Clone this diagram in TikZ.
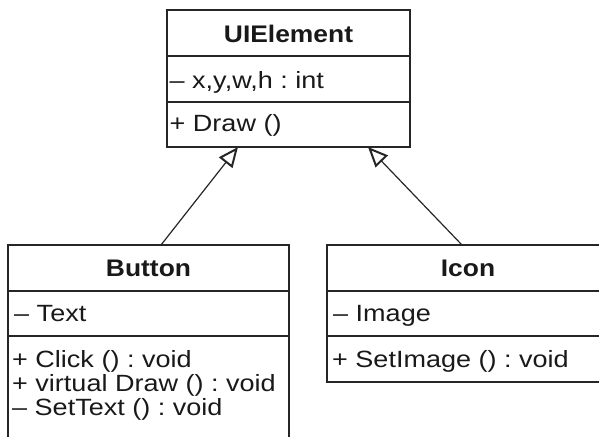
\documentclass[tikz,border=0pt]{standalone}
\usepackage{fontspec}
\setmainfont{Liberation Sans}[FakeStretch=1.15]
\newfontfamily\classnamefont{Liberation Sans}[FakeStretch=1.1]
\usetikzlibrary{arrows.meta}
\frenchspacing
\tikzset{
  classbox/.style={draw=black!85, line width=1.5pt, anchor=north west, inner sep=0pt, outer sep=0pt},
  divider/.style={draw=black!85, line width=1.5pt},
  classname/.style={font=\classnamefont\fontsize{24}{26}\selectfont\bfseries, text=black!90, anchor=base, inner sep=0pt},
  member/.style={font=\fontsize{23.5}{26}\selectfont, text=black!90, anchor=base west, inner sep=0pt},
  inherit/.style={draw=black!85, line width=1.2pt, -{Triangle[open, length=20pt, width=17pt, line width=2pt]}},
}
\begin{document}
\begin{tikzpicture}[x=1pt, y=-1pt]
\useasboundingbox (0,0) rectangle (599,436);

% base class
\node[classbox, minimum width=243pt, minimum height=137pt] (ui) at (167,10) {};
\draw[divider] ([yshift=-46pt]ui.north west) -- ([yshift=-46pt]ui.north east);
\draw[divider] ([yshift=-92pt]ui.north west) -- ([yshift=-92pt]ui.north east);
\node[classname] (uiname) at (288.5,42.7) {UIElement};
\node[member] (uiattr) at (169.5,88) {– x,y,w,h : int};
\node[member] (uiop) at (169.5,131.7) {+ Draw ()};

% Button (runs past the lower edge)
\node[classbox, minimum width=281pt, minimum height=260pt] (btn) at (8,245) {};
\draw[divider] ([yshift=-46pt]btn.north west) -- ([yshift=-46pt]btn.north east);
\draw[divider] ([yshift=-91pt]btn.north west) -- ([yshift=-91pt]btn.north east);
\node[classname] (btnname) at (148.5,276.7) {Button};
\node[member] (btnattr) at (14,321.7) {– Text};
\node[member] (btnop1) at (12,367) {+ Click () : void};
\node[member] (btnop2) at (12,391) {+ virtual Draw () : void};
\node[member] (btnop3) at (12,415) {– SetText () : void};

% Icon (runs past the right edge)
\node[classbox, minimum width=282pt, minimum height=137pt] (icon) at (327,245) {};
\draw[divider] ([yshift=-46pt]icon.north west) -- ([yshift=-46pt]icon.north east);
\draw[divider] ([yshift=-91pt]icon.north west) -- ([yshift=-91pt]icon.north east);
\node[classname] (iconname) at (468,276.7) {Icon};
\node[member] (iconattr) at (333,321.7) {– Image};
\node[member] (iconop) at (332,367) {+ SetImage () : void};

% generalisation arrows
\draw[inherit] ([xshift=153pt]btn.north west) -- ([xshift=71pt]ui.south west);
\draw[inherit] ([xshift=135pt]icon.north west) -- ([xshift=201pt]ui.south west);
\end{tikzpicture}
\end{document}
